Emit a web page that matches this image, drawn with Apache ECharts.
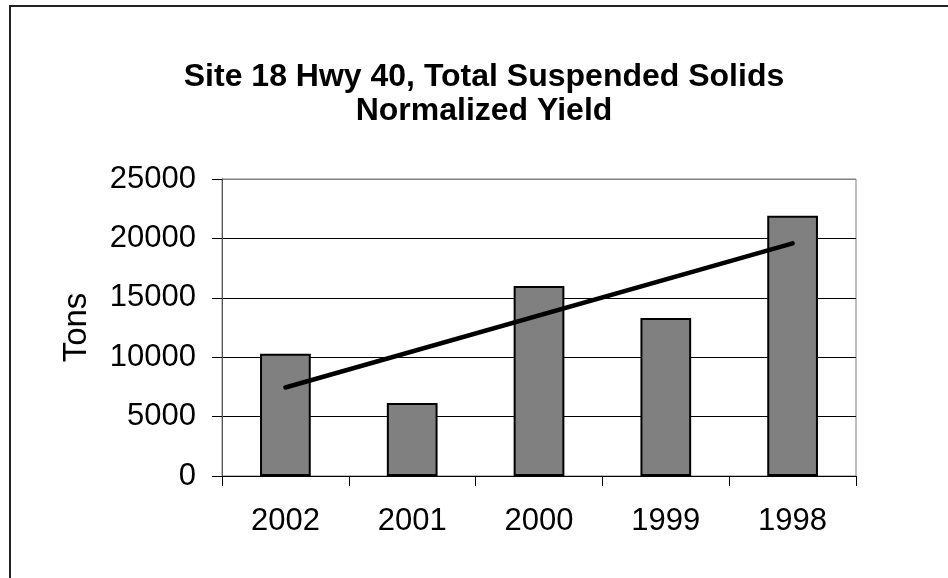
<!DOCTYPE html>
<html>
<head>
<meta charset="utf-8">
<script src="https://cdn.jsdelivr.net/npm/echarts@6/dist/echarts.min.js"></script>
<style>
html,body{margin:0;padding:0;background:#fff;}
#chart{width:948px;height:578px;}
</style>
</head>
<body>
<div id="chart"></div>
<script>
const categories = ['2002', '2001', '2000', '1999', '1998'];
const yieldTons = [10300, 6150, 16000, 13300, 21900];
const trendStart = ['2002', 7450];
const trendEnd = ['1998', 19580];
const titleLines = ['Site 18 Hwy 40, Total Suspended Solids', 'Normalized Yield'];
const yAxisName = 'Tons';

const chart = echarts.init(document.getElementById('chart'));
chart.setOption({
  backgroundColor: '#fff',
  animation: false,
  graphic: [{
    type: 'rect',
    shape: { x: 10, y: 6, width: 960, height: 600 },
    style: { fill: 'none', stroke: '#222', lineWidth: 2 },
    z: 100
  }],
  title: {
    text: titleLines.join('\n'),
    left: 479,
    top: 55,
    textAlign: 'center',
    textStyle: {
      fontFamily: 'Liberation Sans',
      fontWeight: 'bold',
      fontSize: 32,
      lineHeight: 34,
      color: '#000'
    }
  },
  grid: {
    left: 222,
    right: 92,
    top: 179,
    bottom: 102,
    show: true,
    borderColor: '#808080',
    borderWidth: 1
  },
  xAxis: {
    type: 'category',
    data: categories,
    axisLine: { lineStyle: { color: '#000', width: 1 } },
    axisTick: { show: true, length: 10, lineStyle: { color: '#000' } },
    axisLabel: {
      fontFamily: 'Liberation Sans',
      fontSize: 31,
      color: '#000',
      margin: 30
    }
  },
  yAxis: {
    type: 'value',
    min: 0,
    max: 25000,
    interval: 5000,
    name: yAxisName,
    nameLocation: 'middle',
    nameGap: 129,
    nameTextStyle: { fontFamily: 'Liberation Sans', fontSize: 33, color: '#000' },
    axisLine: { show: true, lineStyle: { color: '#555', width: 1 } },
    axisTick: { show: true, length: 10, lineStyle: { color: '#000' } },
    axisLabel: {
      fontFamily: 'Liberation Sans',
      fontSize: 31,
      color: '#000',
      margin: 26,
      formatter: function (v) { return String(v); }
    },
    splitLine: { show: true, lineStyle: { color: ['#000', '#000', '#000', '#000', '#000', '#808080'], width: 1 } }
  },
  series: [{
    type: 'bar',
    data: yieldTons,
    barWidth: '40%',
    itemStyle: { color: '#808080', borderColor: '#000', borderWidth: 2 },
    z: 2
  }, {
    type: 'line',
    data: [trendStart, trendEnd],
    symbol: 'none',
    lineStyle: { color: '#000', width: 4.5, cap: 'round' },
    z: 3
  }]
});
</script>
</body>
</html>
